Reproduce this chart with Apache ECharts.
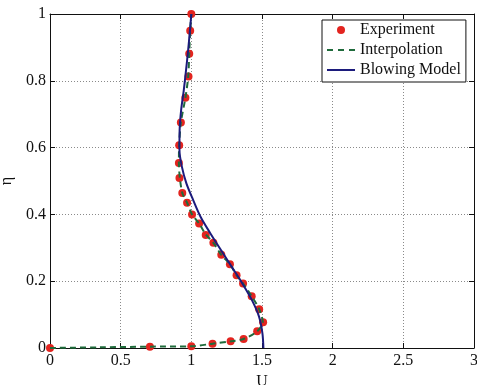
<!DOCTYPE html>
<html>
<head>
<meta charset="utf-8">
<script src="https://cdn.jsdelivr.net/npm/echarts@6/dist/echarts.min.js"></script>
<style>
  html, body { margin: 0; padding: 0; background: #fff; }
  #chart { width: 477px; height: 385px; }
</style>
</head>
<body>
<div id="chart"></div>
<script>
// Velocity profile U(eta): measured points, interpolated curve and blowing model
var seriesNames = ['Experiment', 'Interpolation', 'Blowing Model'];

var xTicks = { min: 0, max: 3, interval: 0.5 };
var yTicks = { min: 0, max: 1, interval: 0.2 };

var expU   = [0, 0.707, 1.0, 1.15, 1.278, 1.37, 1.466, 1.508, 1.48, 1.427, 1.366, 1.32, 1.273, 1.212, 1.156, 1.102, 1.055, 1.005, 0.97, 0.936, 0.916, 0.912, 0.914, 0.926, 0.958, 0.98, 0.985, 0.992, 1.0];
var expEta = [0, 0.004, 0.005, 0.013, 0.02, 0.027, 0.05, 0.077, 0.116, 0.155, 0.193, 0.218, 0.251, 0.279, 0.315, 0.338, 0.373, 0.4, 0.435, 0.464, 0.509, 0.554, 0.607, 0.675, 0.749, 0.813, 0.881, 0.95, 1.0];

var interpU   = [0, 0.35, 0.707, 1.0, 1.15, 1.278, 1.37, 1.466, 1.505, 1.48, 1.427, 1.366, 1.32, 1.273, 1.212, 1.156, 1.102, 1.055, 1.005, 0.97, 0.938, 0.92, 0.912, 0.914, 0.926, 0.958, 0.978, 0.985, 0.992, 1.0];
var interpEta = [0, 0.002, 0.004, 0.005, 0.013, 0.02, 0.027, 0.05, 0.078, 0.116, 0.155, 0.193, 0.218, 0.251, 0.279, 0.315, 0.34, 0.373, 0.4, 0.435, 0.462, 0.505, 0.554, 0.607, 0.675, 0.749, 0.813, 0.881, 0.95, 1.0];

var modelU   = [1.51, 1.503, 1.479, 1.428, 1.36, 1.286, 1.21, 1.135, 1.065, 1.013, 0.965, 0.933, 0.916, 0.917, 0.928, 0.946, 0.962, 0.977, 0.99, 1.0];
var modelEta = [0, 0.044, 0.094, 0.144, 0.194, 0.243, 0.293, 0.343, 0.393, 0.443, 0.493, 0.543, 0.593, 0.65, 0.713, 0.77, 0.83, 0.89, 0.95, 1.0];

function pairs(xs, ys) {
  return xs.map(function (x, i) { return [x, ys[i]]; });
}

var serif = 'Liberation Serif';
var ink = '#111';
var colors = { exp: '#e3241f', interp: '#1f6b3b', model: '#1c1b7c' };

// legend glyphs: 28x8 box, thin bar (solid or dashed) through the middle
var solidIcon  = 'path://M0,0M0,3h28v2h-28zM28,8';
var dashedIcon = 'path://M0,0M0,3h6v2h-6zM11,3h6v2h-6zM22,3h6v2h-6zM28,8';

function boxAxis(base, pos, showLabels) {
  return Object.assign({
    type: 'value',
    position: pos,
    axisLine: { show: true, onZero: false, lineStyle: { color: ink, width: 1 } },
    axisTick: { show: true, inside: true, length: 5, lineStyle: { color: ink } },
    axisLabel: { show: showLabels, color: ink, fontFamily: serif, fontSize: 16 },
    splitLine: { show: false }
  }, base);
}

var gridLine = { show: true, lineStyle: { color: '#8a8a8a', type: [1, 2], width: 1 } };

var xBottom = boxAxis({ min: xTicks.min, max: xTicks.max, interval: xTicks.interval,
  name: 'U', nameLocation: 'middle', nameGap: 14,
  nameTextStyle: { color: ink, fontFamily: serif, fontSize: 16 },
  splitLine: gridLine
}, 'bottom', true);
xBottom.axisLabel.margin = 5;

var yLeft = boxAxis({ min: yTicks.min, max: yTicks.max, interval: yTicks.interval,
  name: 'η', nameLocation: 'middle', nameGap: 28, nameRotate: 90,
  nameTextStyle: { color: ink, fontFamily: serif, fontSize: 16 },
  splitLine: gridLine
}, 'left', true);
yLeft.axisLabel.margin = 4;

var option = {
  backgroundColor: '#fff',
  animation: false,
  grid: { left: 50, right: 3, top: 14, bottom: 37, containLabel: false, outerBoundsMode: 'none' },
  xAxis: [
    xBottom,
    boxAxis({ min: xTicks.min, max: xTicks.max, interval: xTicks.interval }, 'top', false)
  ],
  yAxis: [
    yLeft,
    boxAxis({ min: yTicks.min, max: yTicks.max, interval: yTicks.interval }, 'right', false)
  ],
  legend: {
    orient: 'vertical',
    left: 322,
    top: 20,
    padding: [2, 5, 4, 5],
    itemGap: 4,
    itemWidth: 28,
    itemHeight: 8,
    backgroundColor: '#fff',
    borderColor: ink,
    borderWidth: 1,
    borderRadius: 0,
    textStyle: { color: ink, fontFamily: serif, fontSize: 16 },
    data: [
      { name: seriesNames[0], icon: 'circle' },
      { name: seriesNames[1], icon: dashedIcon },
      { name: seriesNames[2], icon: solidIcon }
    ]
  },
  series: [
    {
      name: seriesNames[0],
      type: 'scatter',
      data: pairs(expU, expEta),
      symbol: 'circle',
      symbolSize: 8,
      itemStyle: { color: colors.exp, opacity: 1 },
      clip: false
    },
    {
      name: seriesNames[1],
      type: 'line',
      data: pairs(interpU, interpEta),
      smooth: 0.3,
      showSymbol: false,
      symbol: 'none',
      lineStyle: { color: colors.interp, width: 2, type: [6, 4] },
      itemStyle: { color: colors.interp }
    },
    {
      name: seriesNames[2],
      type: 'line',
      data: pairs(modelU, modelEta),
      smooth: 0.3,
      showSymbol: false,
      symbol: 'none',
      lineStyle: { color: colors.model, width: 2 },
      itemStyle: { color: colors.model }
    }
  ]
};

var chart = echarts.init(document.getElementById('chart'), null, { renderer: 'canvas' });
chart.setOption(option);
</script>
</body>
</html>
